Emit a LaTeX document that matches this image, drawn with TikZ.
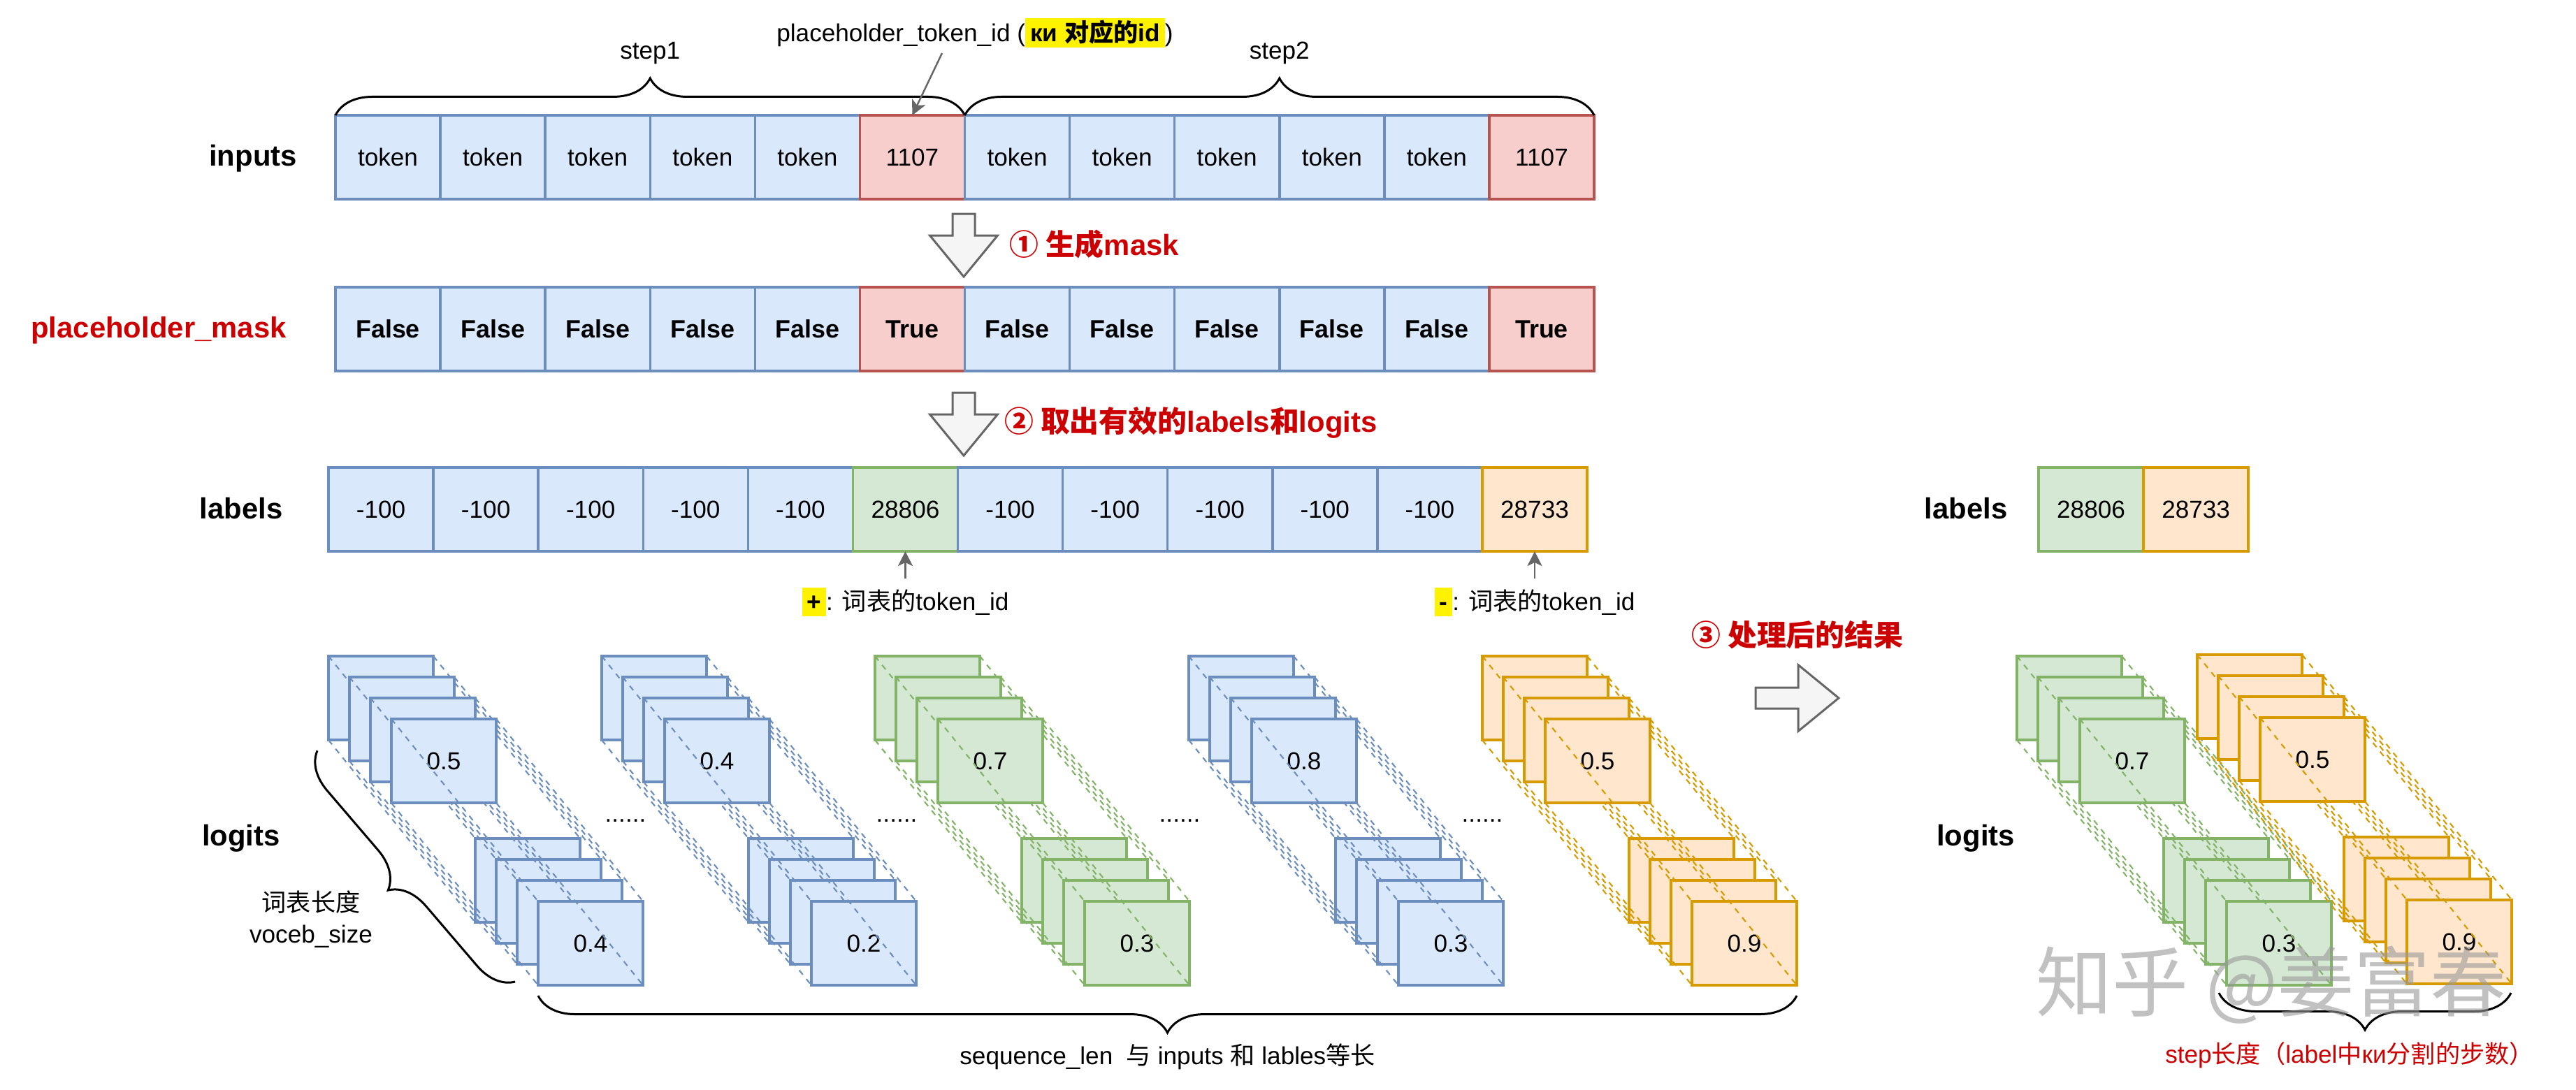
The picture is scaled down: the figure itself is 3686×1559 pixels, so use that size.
\documentclass[tikz,border=0pt]{standalone}
\usepackage{fontspec}
\setmainfont{Liberation Sans}
\newfontfamily\cjk{Noto Sans CJK SC}
\usetikzlibrary{arrows.meta,positioning,decorations.pathreplacing}

\definecolor{bF}{HTML}{DAE8FC}\definecolor{bD}{HTML}{6C8EBF}
\definecolor{rF}{HTML}{F8CECC}\definecolor{rD}{HTML}{B85450}
\definecolor{gF}{HTML}{D5E8D4}\definecolor{gD}{HTML}{82B366}
\definecolor{oF}{HTML}{FFE6CC}\definecolor{oD}{HTML}{D79B00}
\definecolor{arrowF}{HTML}{F5F5F5}\definecolor{arrowD}{HTML}{666666}
\definecolor{redtext}{HTML}{CC0000}

% yellow marker behind a short text
\newcommand{\hl}[1]{{\setlength{\fboxsep}{0.8pt}\colorbox{yellow}{\rule[-1.6pt]{0pt}{10.2pt}\hspace{1.2pt}#1\hspace{1.2pt}}}}

\begin{document}
\begin{tikzpicture}[x=0.01cm, y=-0.01cm, >={Stealth[length=6pt,width=6pt,inset=1.5pt]},
	every node/.style={font=\fontsize{10pt}{12.8pt}\selectfont},
	cell/.style={draw=#1D, fill=#1F, line width=1pt, minimum width=1.5cm, minimum height=1.2cm, inner sep=0pt, outer sep=0pt},
	link/.style={draw=#1D, line width=0.6pt, dash pattern=on 2.3pt off 2.3pt},
	tag/.style={font=\fontsize{11.9pt}{14pt}\selectfont\bfseries},
	redtag/.style={tag, text=redtext, inner sep=0pt, anchor=west},
	ptr/.style={->, draw=arrowD, line width=0.7pt},
	curly/.style={decorate, decoration={brace, amplitude=0.53cm}, line width=0.85pt},
	blockarrow/.style={draw=arrowD, fill=arrowF, line width=0.85pt},
	downarrow/.pic={\draw[blockarrow] (-16,0) -- (16,0) -- (16,31) -- (48.5,31) -- (0,90) -- (-48.5,31) -- (-16,31) -- cycle;},
	rightarrow/.pic={\draw[blockarrow] (0,-15) -- (61,-15) -- (61,-47.5) -- (119,0) -- (61,47.5) -- (61,15) -- (0,15) -- cycle;}]

	\path[fill=white] (0,0) rectangle (3686,1559);

	% inputs
	\node[tag] (inputs) at (362,227) {inputs};
	\coordinate (in0) at (480,225);
	\foreach \col/\txt [count=\n] in {b/token,b/token,b/token,b/token,b/token,r/1107,b/token,b/token,b/token,b/token,b/token,r/1107}{
		\pgfmathtruncatemacro\prev{\n-1}
		\node[cell/.expanded=\col, right=0pt of in\prev] (in\n) {\txt};
	}
	\draw[curly] (in1.north west) -- (in6.north east) node[midway, above=0.6cm] (step1) {step1};
	\draw[curly] (in7.north west) -- (in12.north east) node[midway, above=0.6cm] (step2) {step2};

	\node (pid) at (1395,47) {placeholder\_token\_id (\hl{\bfseries ки {\cjk 对应的}id})};
	\coordinate (pidtail) at (1348,76);
	\draw[ptr] (pidtail) -- (in6.north);

	\pic at (1379,306) {downarrow};
	\node[redtag] (do1) at (1444,350) {{\cjk ① 生成}mask};

	% placeholder_mask
	\node[tag, text=redtext] (pmask) at (227,473) {placeholder\_mask};
	\coordinate (m0) at (480,471);
	\foreach \col/\txt [count=\n] in {b/False,b/False,b/False,b/False,b/False,r/True,b/False,b/False,b/False,b/False,b/False,r/True}{
		\pgfmathtruncatemacro\prev{\n-1}
		\node[cell/.expanded=\col, font=\fontsize{10.2pt}{12pt}\selectfont\bfseries, right=0pt of m\prev] (m\n) {\txt};
	}

	\pic at (1379,562) {downarrow};
	\node[redtag] (do2) at (1437,605) {{\cjk ② 取出有效的}labels{\cjk 和}logits};

	% labels
	\node[tag] (labels) at (345,728) {labels};
	\coordinate (l0) at (470,729);
	\foreach \col/\txt [count=\n] in {b/-100,b/-100,b/-100,b/-100,b/-100,g/28806,b/-100,b/-100,b/-100,b/-100,b/-100,o/28733}{
		\pgfmathtruncatemacro\prev{\n-1}
		\node[cell/.expanded=\col, right=0pt of l\prev] (l\n) {\txt};
	}
	\node[below=0.39cm of l6] (plus) {\hl{\bfseries +}: {\cjk 词表的}token\_id};
	\draw[ptr] (plus.north) -- (l6.south);
	\node[below=0.39cm of l12] (minus) {\hl{\bfseries -}: {\cjk 词表的}token\_id};
	\draw[ptr] (minus.north) -- (l12.south);

	\node[tag] (labels2) at (2813,728) {labels};
	\coordinate (r0) at (2917,729);
	\foreach \col/\txt [count=\n] in {g/28806,o/28733}{
		\pgfmathtruncatemacro\prev{\n-1}
		\node[cell/.expanded=\col, right=0pt of r\prev] (r\n) {\txt};
	}

	\node[redtag] (do3) at (2420,909) {{\cjk ③ 处理后的结果}};
	\pic at (2512,999) {rightarrow};

	% logits: front and back square of each layer, then the dashed edges between them
	\node[tag] (logits) at (345,1200) {logits};
	\node[tag] (logits2) at (2827,1200) {logits};
	\foreach \nm/\x/\y/\col/\va/\vb in {a/470/939/b/0.5/0.4, b/861/939/b/0.4/0.2, c/1252/939/g/0.7/0.3, d/1701/939/b/0.8/0.3, e/2121/939/o/0.5/0.9, f/2886/939/g/0.7/0.3, g/3144/937/o/0.5/0.9}{
		\foreach \lay in {0,...,3}{
			\node[cell/.expanded=\col, anchor=north west] (\nm t\lay) at ({\x+30*\lay},{\y+30*\lay}) {\ifnum\lay=3 \va\fi};
			\node[cell/.expanded=\col, anchor=north west] (\nm b\lay) at ({\x+210+30*\lay},{\y+261+30*\lay}) {\ifnum\lay=3 \vb\fi};
			\foreach \cor in {north west,north east,south west,south east}
				\draw[link/.expanded=\col] (\nm t\lay.\cor) -- (\nm b\lay.\cor);
		}
	}
	\foreach \px [count=\n] in {895,1283,1688,2121}
		\node (dots\n) at (\px,1175) {......};

	\coordinate (vb1) at (737,1405);
	\coordinate (vb2) at (453,1073);
	\draw[curly] (vb1) -- (vb2);
	\node[align=center] (vocab) at (445,1316) {{\cjk 词表长度}\\voceb\_size};

	\coordinate (sq1) at (2571,1425);
	\coordinate (sq2) at (770,1425);
	\draw[curly] (sq1) -- (sq2) node[midway, below=0.56cm] (seqlen) {sequence\_len\ \ {\cjk 与} inputs {\cjk 和} lables{\cjk 等长}};

	\coordinate (sb1) at (3593,1421);
	\coordinate (sb2) at (3175,1421);
	\draw[curly] (sb1) -- (sb2);
	\node[text=redtext] (steplen) at (3362,1510) {step{\cjk 长度（}label{\cjk 中}ки{\cjk 分割的步数）}};

	\node[text=gray!80, opacity=0.6, font=\cjk\fontsize{31pt}{33pt}\selectfont] (mark) at (3250,1410) {知乎 @姜富春};
\end{tikzpicture}
\end{document}
